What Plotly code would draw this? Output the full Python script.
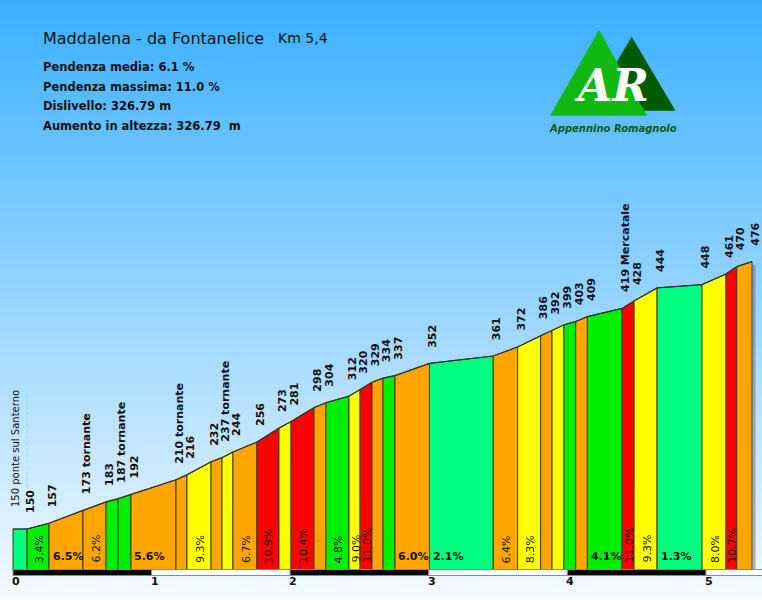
import base64, struct, zlib
import plotly.graph_objects as go

# ---------------- data ----------------
dist_km = [0, 0.101, 0.260, 0.505, 0.671, 0.758, 0.851, 1.176, 1.255, 1.429, 1.508,
           1.587, 1.760, 1.919, 2.006, 2.172, 2.258, 2.424, 2.504, 2.590, 2.670,
           2.756, 3.005, 3.465, 3.641, 3.807, 3.889, 3.975, 4.060, 4.144, 4.394,
           4.481, 4.647, 4.971, 5.144, 5.222, 5.332]
elev_m = [150, 150, 157, 173, 183, 187, 192, 210, 216, 232, 237,
          244, 256, 273, 281, 298, 304, 312, 320, 329, 334,
          337, 352, 361, 372, 386, 392, 399, 403, 409, 419,
          428, 444, 448, 461, 470, 476]
point_labels = ["150 ponte sul Santerno", "150", "157", "173 tornante", "183", "187 tornante",
                "192", "210 tornante", "216", "232", "237 tornante", "244", "256", "273",
                "281", "298", "304", "312", "320", "329", "334", "337", "352", "361",
                "372", "386", "392", "399", "403", "409", "419 Mercatale", "428", "444",
                "448", "461", "470", "476"]
# gradient of each segment (%) and whether the value is printed
slope_pct = [0.0, 3.4, 6.5, 6.2, 4.6, 5.0, 5.6, 7.6, 9.3, 6.3, 8.9, 6.7, 10.9, 9.2,
             10.4, 7.0, 4.8, 9.0, 11.0, 6.2, 3.5, 6.0, 2.1, 6.4, 8.3, 7.3, 8.1, 4.7,
             7.1, 4.1, 11.0, 9.3, 1.3, 8.0, 10.7, 5.6]
slope_shown = [False, True, True, True, False, False, True, False, True, False, False,
               True, True, False, True, False, True, True, True, False, False, True,
               True, True, True, False, False, False, False, True, True, True, True,
               True, True, False]
km_ticks = [0, 1, 2, 3, 4, 5]

title_text = "Maddalena - da Fontanelice"
length_text = "Km 5,4"
stats_lines = ["Pendenza media: 6.1 %", "Pendenza massima: 11.0 %",
               "Dislivello: 326.79 m", "Aumento in altezza: 326.79\u00a0\u00a0m"]

# ---------------- geometry (pixel mapping) ----------------
W, H = 762, 600
X0_PX, PX_PER_KM = 13, 138.6
BASE_PX, PX_PER_M, BASE_M = 570, 0.82, 100
FONT = "DejaVu Sans"


def xpaper(px):
    return px / W


def ypaper(py):
    return 1 - py / H


def m_at(py):
    return BASE_M + (BASE_PX - py) / PX_PER_M


def km_at(px):
    return (px - X0_PX) / PX_PER_KM


def slope_color(g):
    if g < 3:
        return "#00FF80"
    if g < 5.5:
        return "#00EE00"
    if g < 8:
        return "#FFA500"
    if g < 10:
        return "#FFFF00"
    return "#FF0000"


# ---------------- background gradient as png ----------------
def gradient_png(h, top, bottom, gamma=1.0):
    raw = b""
    for i in range(h):
        t = (i / (h - 1)) ** gamma
        c = [round(top[k] + (bottom[k] - top[k]) * t) for k in range(3)]
        raw += b"\x00" + bytes(c)

    def chunk(tag, data):
        return (struct.pack(">I", len(data)) + tag + data +
                struct.pack(">I", zlib.crc32(tag + data) & 0xffffffff))

    png = b"\x89PNG\r\n\x1a\n"
    png += chunk(b"IHDR", struct.pack(">IIBBBBB", 1, h, 8, 2, 0, 0, 0))
    png += chunk(b"IDAT", zlib.compress(raw))
    png += chunk(b"IEND", b"")
    return "data:image/png;base64," + base64.b64encode(png).decode()


bg_src = gradient_png(H, (58, 176, 255), (244, 249, 255), 1.0)

fig = go.Figure()

# ---------------- profile segments ----------------
for i in range(len(dist_km) - 1):
    x0, x1 = dist_km[i], dist_km[i + 1]
    e0, e1 = elev_m[i], elev_m[i + 1]
    fig.add_trace(go.Scatter(
        x=[x0, x0, x1, x1, x0], y=[BASE_M, e0, e1, BASE_M, BASE_M],
        mode="lines", fill="toself", fillcolor=slope_color(slope_pct[i]),
        line=dict(color="#3a3a22", width=1), hoverinfo="skip", showlegend=False))

# top outline
fig.add_trace(go.Scatter(x=dist_km, y=elev_m, mode="lines",
                         line=dict(color="#333333", width=1.2),
                         hoverinfo="skip", showlegend=False))

shapes = []
annotations = []

# right shadow of profile
shapes.append(dict(type="rect", xref="x", yref="y",
                   x0=dist_km[-1] + 0.5 / PX_PER_KM, x1=dist_km[-1] + 3.5 / PX_PER_KM,
                   y0=BASE_M, y1=elev_m[-1] - 3 / PX_PER_M,
                   fillcolor="rgba(90,90,110,0.45)", line=dict(width=0), layer="below"))

# km bar
for k in range(0, 6):
    shapes.append(dict(type="rect", xref="x", yref="y", x0=k, x1=k + 1,
                       y0=m_at(BASE_PX + 5.5), y1=m_at(BASE_PX - 0.5),
                       fillcolor="#000000" if k % 2 == 0 else "#FFFFFF",
                       line=dict(color="#8a8a8a", width=1)))

# dotted marker line
shapes.append(dict(type="line", xref="x", yref="y", x0=dist_km[1], x1=dist_km[1],
                   y0=m_at(487), y1=m_at(390),
                   line=dict(color="#7FE0FF", width=1, dash="dot")))

# logo triangles
def tri(a, b, c, color):
    p = "M {} {} L {} {} L {} {} Z".format(xpaper(a[0]), ypaper(a[1]), xpaper(b[0]),
                                           ypaper(b[1]), xpaper(c[0]), ypaper(c[1]))
    return dict(type="path", xref="paper", yref="paper", path=p,
                fillcolor=color, line=dict(width=0))


shapes.append(tri((631.7, 36.7), (588, 110.7), (675.5, 110.7), "#005A00"))
shapes.append(tri((599, 30), (550, 115.7), (647, 115.7), "#10B810"))

# elevation labels
for i, (d, e, lab) in enumerate(zip(dist_km, elev_m, point_labels)):
    if i == 0:
        annotations.append(dict(x=d, y=e, xref="x", yref="y", text=lab, showarrow=False,
                                textangle=-90, xanchor="center", yanchor="bottom",
                                xshift=2.5, yshift=20,
                                font=dict(family=FONT, size=10, color="#111111")))
    else:
        annotations.append(dict(x=d, y=e, xref="x", yref="y", text="<b>%s</b>" % lab,
                                showarrow=False, textangle=-90, xanchor="center",
                                yanchor="bottom", xshift=3.5, yshift=14,
                                font=dict(family=FONT, size=11, color="#111111")))

# slope labels
for i, g in enumerate(slope_pct):
    if not slope_shown[i]:
        continue
    x0, x1 = dist_km[i], dist_km[i + 1]
    wpx = (x1 - x0) * PX_PER_KM
    txt = "%.1f%%" % g
    if wpx >= 30:
        annotations.append(dict(x=x0, y=BASE_M, xref="x", yref="y", text="<b>%s</b>" % txt,
                                showarrow=False, xanchor="left", yanchor="middle",
                                xshift=1.5, yshift=14,
                                font=dict(family=FONT, size=11, color="#111111")))
    else:
        annotations.append(dict(x=(x0 + x1) / 2, y=BASE_M, xref="x", yref="y", text=txt,
                                showarrow=False, textangle=-90, xanchor="center",
                                yanchor="bottom", xshift=1, yshift=5,
                                font=dict(family=FONT, size=11, color="#111111")))

# km tick labels
for k in km_ticks:
    annotations.append(dict(x=k, y=BASE_M, xref="x", yref="y", text="<b>%d</b>" % k,
                            showarrow=False, xanchor="center", yanchor="middle",
                            xshift=3, yshift=-11,
                            font=dict(family=FONT, size=11, color="#111111")))

# title + stats
annotations.append(dict(x=xpaper(41), y=ypaper(38), xref="paper", yref="paper",
                        text=title_text, showarrow=False, xanchor="left", yanchor="middle",
                        font=dict(family=FONT, size=16, color="#111111")))
annotations.append(dict(x=xpaper(276), y=ypaper(38), xref="paper", yref="paper",
                        text=length_text, showarrow=False, xanchor="left", yanchor="middle",
                        font=dict(family=FONT, size=14, color="#111111")))
for j, line in enumerate(stats_lines):
    annotations.append(dict(x=xpaper(40.5), y=ypaper(66.7 + 19.8 * j), xref="paper",
                            yref="paper", text="<b>%s</b>" % line, showarrow=False,
                            xanchor="left", yanchor="middle",
                            font=dict(family=FONT, size=11.5, color="#111111")))

# logo text
annotations.append(dict(x=xpaper(611), y=ypaper(86), xref="paper", yref="paper",
                        text="<b><i>AR</i></b>", showarrow=False, xanchor="center",
                        yanchor="middle",
                        font=dict(family="DejaVu Serif", size=44, color="#FFFFFF")))
annotations.append(dict(x=xpaper(613), y=ypaper(128.5), xref="paper", yref="paper",
                        text="<b><i>Appennino Romagnolo</i></b>", showarrow=False,
                        xanchor="center", yanchor="middle",
                        font=dict(family=FONT, size=10, color="#0A5A0A")))

fig.update_layout(
    width=W, height=H, margin=dict(l=0, r=0, t=0, b=0),
    paper_bgcolor="#FFFFFF", plot_bgcolor="rgba(0,0,0,0)",
    xaxis=dict(range=[km_at(0), km_at(W)], visible=False, fixedrange=True),
    yaxis=dict(range=[m_at(H), m_at(0)], visible=False, fixedrange=True),
    images=[dict(source=bg_src, xref="paper", yref="paper", x=0, y=1, sizex=1, sizey=1,
                 sizing="stretch", xanchor="left", yanchor="top", layer="below")],
    shapes=shapes, annotations=annotations, showlegend=False,
)

fig.write_html("out.html", config={"displayModeBar": False},
               post_script="document.body.style.margin='0px';document.body.style.overflow='hidden';")
